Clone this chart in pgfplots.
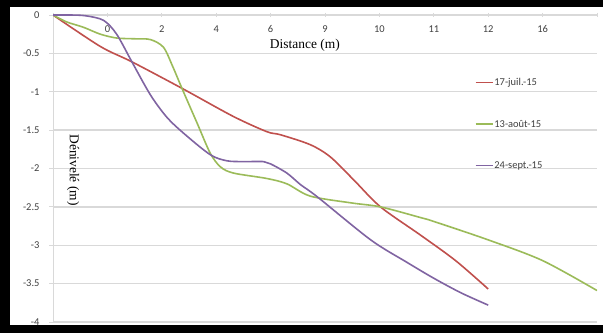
\documentclass[border=0pt]{standalone}
\usepackage{fontspec}
\setmainfont{Liberation Serif}
\newfontfamily\calib{Carlito}
\usepackage{pgfplots}
\pgfplotsset{compat=1.18}
\definecolor{xred}{HTML}{C0504D}
\definecolor{xgreen}{HTML}{9BBB59}
\definecolor{xpurple}{HTML}{8064A2}
\definecolor{xgrid}{HTML}{D9D9D9}
\definecolor{xtxt}{HTML}{404040}
\begin{document}
\begin{tikzpicture}[x=1bp,y=1bp]
\fill[black] (0,0) rectangle (603,333);
\fill[white] (10,8) rectangle (603,326);
\begin{axis}[
  at={(53bp,11bp)}, anchor=south west,
  scale only axis, width=544bp, height=307bp,
  xmin=0, xmax=10, ymin=-4, ymax=0,
  axis x line*=top, axis y line*=left,
  axis line style={xgrid, line width=1bp},
  xtick={0,...,10},
  xticklabels={,0,2,4,6,9,10,11,12,16,},
  ytick={-4,-3.5,...,0},
  yticklabels={-4,-3.5,-3,-2.5,-2,-1.5,-1,-0.5,0},
  ymajorgrids, major grid style={xgrid, line width=1.3bp},
  major tick length=4bp,
  x tick style={xgrid, line width=0.8bp}, y tick style={xgrid, line width=0.8bp},
  xtick align=center, ytick align=outside,
  tick label style={font=\calib\fontsize{10.5}{12}\selectfont, text=xtxt},
  xticklabel style={anchor=north, yshift=-9bp},
  yticklabel style={anchor=east, xshift=-6bp},
  every axis x label/.style={at={(axis description cs:0.463,1)}, anchor=north, yshift=-21bp},
  every axis y label/.style={at={(axis description cs:0.037,0.495)}, rotate=-90, anchor=center},
  xlabel={Distance (m)}, ylabel={Dénivelé (m)},
  label style={font=\fontsize{13.5}{15}\selectfont},
  legend style={at={(axis description cs:0.775,0.798)}, anchor=north west, draw=none, fill=none,
    font=\calib\fontsize{10.5}{12}\selectfont, row sep=31bp, inner sep=0pt,
    nodes={inner sep=1bp, text=xtxt}},
  legend cell align=left,
  legend image post style={line width=1.6bp},
  every axis plot/.append style={line width=1.6bp, smooth, tension=0.5, no marks},
]
\addplot[xred] coordinates {(0,0) (0.87,-0.41) (1.45,-0.61) (2.37,-0.955) (3.31,-1.32) (3.93,-1.52) (4.18,-1.56) (4.73,-1.69) (5.1,-1.85) (5.53,-2.15) (6.02,-2.5) (6.76,-2.87) (7.4,-3.2) (8,-3.57)};
\addlegendentry{17-juil.-15}
\addplot[xgreen] coordinates {(0,0) (0.25,-0.09) (0.56,-0.16) (0.87,-0.25) (1.17,-0.3) (1.5,-0.31) (1.79,-0.32) (2.03,-0.42) (2.2,-0.67) (2.37,-0.955) (2.65,-1.41) (2.89,-1.8) (3.08,-1.98) (3.32,-2.06) (3.93,-2.13) (4.3,-2.2) (4.73,-2.36) (5.5,-2.45) (6.02,-2.5) (6.76,-2.64) (7,-2.69) (8,-2.93) (9,-3.2) (10,-3.59)};
\addlegendentry{13-août-15}
\addplot[xpurple] coordinates {(0,0) (0.3,0) (0.6,-0.01) (0.93,-0.07) (1.17,-0.25) (1.45,-0.61) (1.79,-1.04) (2.09,-1.33) (2.4,-1.54) (2.89,-1.82) (3.2,-1.9) (3.5,-1.91) (3.87,-1.91) (4.0,-1.94) (4.3,-2.06) (4.55,-2.21) (4.86,-2.37) (5.84,-2.93) (6.5,-3.22) (7,-3.43) (7.5,-3.62) (8,-3.78)};
\addlegendentry{24-sept.-15}
\end{axis}
\end{tikzpicture}
\end{document}
